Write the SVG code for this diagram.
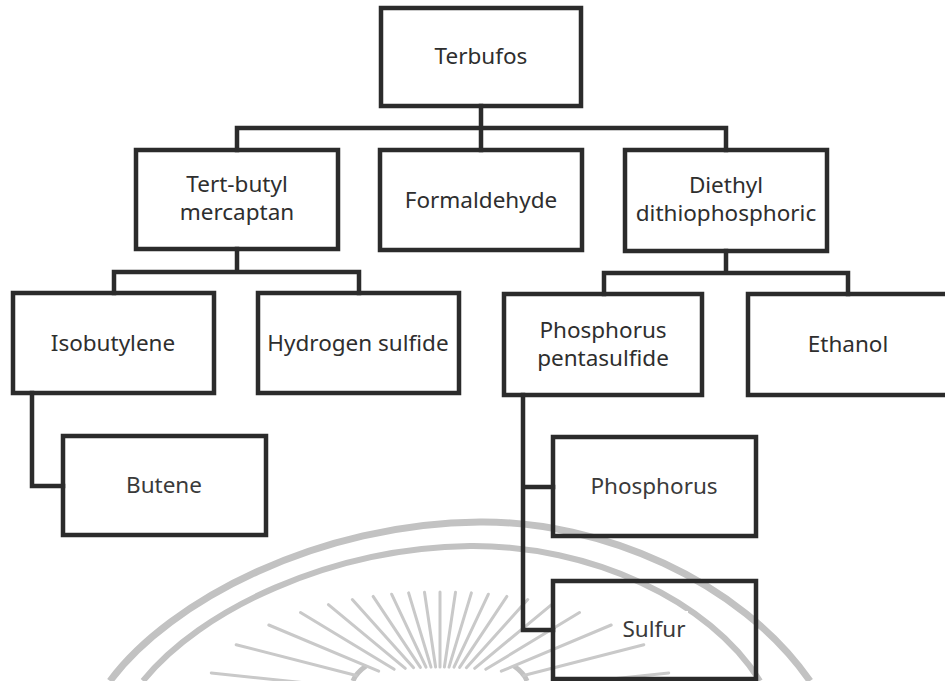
<svg xmlns="http://www.w3.org/2000/svg" width="945" height="681" viewBox="0 0 945 681">
  <style>
    .box{fill:none;stroke:#2b2b2b;stroke-width:4.5}
    .wire{fill:none;stroke:#2b2b2b;stroke-width:4.5;stroke-linejoin:miter;stroke-linecap:square}
    .lbl{font-family:"Noto Sans","Open Sans","DejaVu Sans",sans-serif;font-size:22.5px;fill:#2e2e2e;text-anchor:middle}
    .lbl2{fill:#3a3a3a}
    .seal{fill:none;stroke:#c2c2c2}
    .ray{stroke:#c9c9c9;stroke-width:3;stroke-linecap:round}
  </style>
  <rect width="945" height="681" fill="#ffffff"/>

  <!-- faint seal in the background -->
  <g id="seal">
    <path class="seal" stroke-width="7" d="M110,681 C170,600 320,523 480,522 C600,521 740,580 810,681"/>
    <path class="seal" stroke-width="6" d="M143,681 C200,610 330,548 470,546 C590,545 710,600 760,681"/>
    <path class="seal" stroke-width="5" d="M366,666 Q356,673 353,681"/>
    <path class="seal" stroke-width="5" d="M514,666 Q524,673 527,681"/>
    <g class="ray">
      <line x1="211.3" y1="673.0" x2="329.4" y2="685.4"/>
      <line x1="236.2" y1="644.7" x2="356.3" y2="675.5"/>
      <line x1="268.8" y1="625.0" x2="378.7" y2="671.2"/>
      <line x1="300.5" y1="612.5" x2="394.2" y2="669.3"/>
      <line x1="328.4" y1="604.6" x2="405.3" y2="668.3"/>
      <line x1="352.3" y1="599.6" x2="413.6" y2="667.7"/>
      <line x1="373.1" y1="596.4" x2="420.4" y2="667.4"/>
      <line x1="391.6" y1="594.2" x2="426.0" y2="667.2"/>
      <line x1="408.6" y1="592.9" x2="431.0" y2="667.1"/>
      <line x1="424.5" y1="592.2" x2="435.6" y2="667.0"/>
      <line x1="440" y1="592" x2="440" y2="667"/>
      <line x1="455.5" y1="592.2" x2="444.4" y2="667.0"/>
      <line x1="471.4" y1="592.9" x2="449.0" y2="667.1"/>
      <line x1="488.4" y1="594.2" x2="454.0" y2="667.2"/>
      <line x1="506.9" y1="596.4" x2="459.6" y2="667.4"/>
      <line x1="527.7" y1="599.6" x2="466.4" y2="667.7"/>
      <line x1="551.6" y1="604.6" x2="474.7" y2="668.3"/>
      <line x1="579.5" y1="612.5" x2="485.8" y2="669.3"/>
      <line x1="611.2" y1="625.0" x2="501.3" y2="671.2"/>
      <line x1="643.8" y1="644.7" x2="523.7" y2="675.5"/>
      <line x1="668.7" y1="673.0" x2="550.6" y2="685.4"/>
    </g>
  </g>

  <!-- connectors -->
  <g id="connectors">
    <path class="wire" d="M481,106 V150 M237,150 V128 H726 V150"/>
    <path class="wire" d="M237,249 V272 M114,293 V272 H359 V293"/>
    <path class="wire" d="M726,251 V273 M604,294 V273 H848 V294"/>
    <path class="wire" d="M32,393 V486 H63"/>
    <path class="wire" d="M523,395 V630 H553 M523,487 H553"/>
  </g>

  <!-- nodes -->
  <g id="terbufos">
    <rect class="box" x="381" y="8" width="200" height="98"/>
    <text class="lbl" x="481" y="64">Terbufos</text>
  </g>
  <g id="tert-butyl-mercaptan">
    <rect class="box" x="136" y="150" width="202" height="99"/>
    <text class="lbl" x="237" y="192">Tert-butyl</text>
    <text class="lbl" x="237" y="220">mercaptan</text>
  </g>
  <g id="formaldehyde">
    <rect class="box" x="380" y="150" width="202" height="100"/>
    <text class="lbl" x="481" y="208">Formaldehyde</text>
  </g>
  <g id="diethyl-dithiophosphoric">
    <rect class="box" x="625" y="150" width="202" height="101"/>
    <text class="lbl" x="726" y="193">Diethyl</text>
    <text class="lbl" x="726" y="221">dithiophosphoric</text>
  </g>
  <g id="isobutylene">
    <rect class="box" x="13" y="293" width="201" height="100"/>
    <text class="lbl" x="113" y="351">Isobutylene</text>
  </g>
  <g id="hydrogen-sulfide">
    <rect class="box" x="258" y="293" width="201" height="100"/>
    <text class="lbl" x="358" y="351">Hydrogen sulfide</text>
  </g>
  <g id="phosphorus-pentasulfide">
    <rect class="box" x="504" y="294" width="198" height="101"/>
    <text class="lbl" x="603" y="338">Phosphorus</text>
    <text class="lbl" x="603" y="366">pentasulfide</text>
  </g>
  <g id="ethanol">
    <rect class="box" x="748" y="294" width="205" height="101"/>
    <text class="lbl" x="848" y="352">Ethanol</text>
  </g>
  <g id="butene">
    <rect class="box" x="63" y="436" width="203" height="99"/>
    <text class="lbl lbl2" x="164" y="493">Butene</text>
  </g>
  <g id="phosphorus">
    <rect class="box" x="553" y="437" width="203" height="99"/>
    <text class="lbl lbl2" x="654" y="494">Phosphorus</text>
  </g>
  <g id="sulfur">
    <rect class="box" x="553" y="581" width="203" height="98"/>
    <rect x="615" y="611" width="73" height="31" fill="#ffffff"/>
    <text class="lbl lbl2" x="654" y="637">Sulfur</text>
  </g>
</svg>
